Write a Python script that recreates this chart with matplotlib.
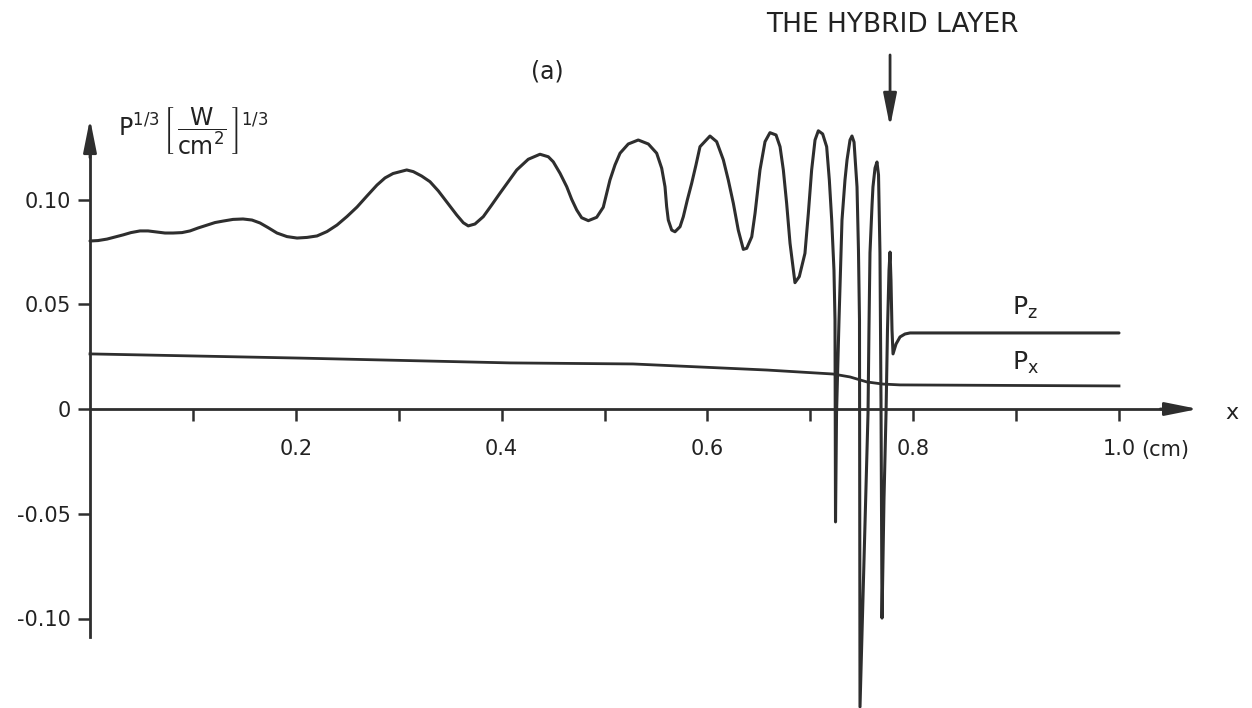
import matplotlib
matplotlib.use('Agg')
import matplotlib.pyplot as plt

plt.rcParams['font.family'] = ['DejaVu Sans']
plt.rcParams['mathtext.fontset'] = 'dejavusans'

# P_z^(1/3) along x (cm)
xz = [0.0000, 0.0078, 0.0165, 0.0243, 0.0321, 0.0398, 0.0486, 0.0564, 0.0651, 0.0729,
      0.0807, 0.0894, 0.0972, 0.1050, 0.1137, 0.1215, 0.1293, 0.1390, 0.1487, 0.1574,
      0.1652, 0.1730, 0.1817, 0.1914, 0.2012, 0.2109, 0.2206, 0.2303, 0.2400, 0.2498,
      0.2595, 0.2692, 0.2789, 0.2867, 0.2945, 0.3042,
      0.3078, 0.3142, 0.3223, 0.3304, 0.3385, 0.3466, 0.3564, 0.3628, 0.3676, 0.3741,
      0.3822, 0.3904, 0.3984, 0.4065, 0.4147, 0.4259, 0.4373, 0.4454, 0.4502, 0.4568,
      0.4633, 0.4681, 0.4730, 0.4778, 0.4843, 0.4924, 0.4988, 0.5021, 0.5053, 0.5102,
      0.5151, 0.5231, 0.5328, 0.5426, 0.5507, 0.5556, 0.5588, 0.5604, 0.5620, 0.5653,
      0.5685, 0.5734, 0.5766, 0.5805, 0.5847, 0.5889, 0.5928,
      0.6025, 0.6090, 0.6155, 0.6203, 0.6252, 0.6300, 0.6349, 0.6382, 0.6431, 0.6463,
      0.6511, 0.6560, 0.6608, 0.6667, 0.6706, 0.6738, 0.6770, 0.6803, 0.6851, 0.6893,
      0.6948, 0.6981, 0.7013, 0.7046, 0.7078, 0.7120, 0.7159, 0.7185, 0.7208, 0.7230,
      0.7240, 0.7245, 0.7255, 0.7279, 0.7308, 0.7337, 0.7357, 0.7386, 0.7405, 0.7425,
      0.7454, 0.7468, 0.7478, 0.7483, 0.7522, 0.7561, 0.7570, 0.7580, 0.7600, 0.7609,
      0.7629, 0.7648, 0.7663, 0.7677, 0.7687, 0.7697, 0.7716, 0.7736, 0.7750, 0.7765,
      0.7775, 0.7784, 0.7794, 0.7804, 0.7833, 0.7872, 0.7920, 0.7969, 1.0000]
pz = [0.0802, 0.0804, 0.0811, 0.0821, 0.0831, 0.0842, 0.0850, 0.0850, 0.0845, 0.0840,
      0.0840, 0.0842, 0.0850, 0.0864, 0.0878, 0.0890, 0.0897, 0.0905, 0.0907, 0.0902,
      0.0888, 0.0866, 0.0840, 0.0823, 0.0816, 0.0819, 0.0826, 0.0847, 0.0878, 0.0919,
      0.0964, 0.1017, 0.1069, 0.1103, 0.1124, 0.1136,
      0.1141, 0.1133, 0.1112, 0.1085, 0.1041, 0.0989, 0.0926, 0.0889, 0.0874, 0.0883,
      0.0918, 0.0974, 0.1030, 0.1085, 0.1141, 0.1192, 0.1216, 0.1204, 0.1180, 0.1125,
      0.1061, 0.1001, 0.0950, 0.0913, 0.0899, 0.0915, 0.0963, 0.1030, 0.1093, 0.1165,
      0.1221, 0.1265, 0.1284, 0.1265, 0.1221, 0.1149, 0.1061, 0.0966, 0.0902, 0.0854,
      0.0846, 0.0870, 0.0918, 0.0998, 0.1077, 0.1165, 0.1252,
      0.1303, 0.1276, 0.1189, 0.1093, 0.0982, 0.0854, 0.0762, 0.0767, 0.0822, 0.0934,
      0.1141, 0.1276, 0.1319, 0.1308, 0.1252, 0.1141, 0.0982, 0.0791, 0.0603, 0.0632,
      0.0743, 0.0934, 0.1141, 0.1284, 0.1328, 0.1313, 0.1252, 0.1093, 0.0902, 0.0663,
      0.0425, -0.0539, -0.0019, 0.0425, 0.0902, 0.1093, 0.1189, 0.1284, 0.1303, 0.1274,
      0.1060, 0.0759, 0.0425, -0.1422, -0.0721, -0.0019, 0.0377, 0.0745, 0.0974, 0.1060,
      0.1150, 0.1179, 0.1117, 0.0745, 0.0043, -0.0998, -0.0434, -0.0019, 0.0377, 0.0663,
      0.0749, 0.0616, 0.0377, 0.0263, 0.0310, 0.0344, 0.0358, 0.0363, 0.0363]

# P_x^(1/3)
xx = [0.0, 0.2041, 0.4082, 0.5277, 0.6579, 0.7221, 0.7386, 0.7551, 0.7707, 0.7872, 1.0]
px = [0.0263, 0.0243, 0.0220, 0.0215, 0.0186, 0.0167, 0.0153, 0.0129, 0.0119, 0.0115, 0.0110]

yticks = [-0.10, -0.05, 0, 0.05, 0.10]
ylabels = ['-0.10', '-0.05', '0', '0.05', '0.10']
xticks = [0.1, 0.2, 0.3, 0.4, 0.5, 0.6, 0.7, 0.8, 0.9, 1.0]
xlabels = ['', '0.2', '', '0.4', '', '0.6', '', '0.8', '', '1.0']

c = '#2e2e2e'
tc = '#222222'
fig = plt.figure(figsize=(12.52, 7.08), dpi=100)
ax = fig.add_axes([0, 0, 1, 1])
ax.set_xlim(-90/1029, 1162/1029)
ax.set_ylim(-299/2095, 409/2095)

ax.plot(xz, pz, c=c, lw=2.2, solid_joinstyle='round', solid_capstyle='round')
ax.plot(xx, px, c=c, lw=2.0)

# axes through the origin
for s in ['top', 'right']:
    ax.spines[s].set_visible(False)
ax.spines['left'].set_position(('data', 0))
ax.spines['bottom'].set_position(('data', 0))
ax.spines['left'].set_bounds(-0.1088, 0.13)
ax.spines['bottom'].set_bounds(0, 1.05)
for s in ['left', 'bottom']:
    ax.spines[s].set_linewidth(2.0)
    ax.spines[s].set_color(c)
ax.patch.set_visible(False)

ax.set_yticks(yticks)
ax.set_yticklabels(ylabels)
ax.set_xticks(xticks)
ax.set_xticklabels(xlabels)
ax.tick_params(axis='both', direction='out', length=8.6, width=1.8, color=c,
               labelsize=15, labelcolor=tc)
ax.tick_params(axis='y', pad=5)
ax.tick_params(axis='x', pad=13)

# arrow heads on the axes
head = dict(arrowstyle='-|>,head_length=1.0,head_width=0.2', lw=2.0, color=c,
            shrinkA=0, shrinkB=0, mutation_scale=20)
ax.annotate('', xy=(0, 0.1385), xytext=(0, 0.12), arrowprops=head)
ax.annotate('', xy=(1.077, 0), xytext=(1.04, 0), arrowprops=head)

ax.text(1.022, -0.0196, '(cm)', fontsize=15, va='center', ha='left', color=tc)
ax.text(1.110, -0.002, 'x', fontsize=16, va='center', ha='center', color=tc)

ax.text(0.027, 0.1325, r'$\mathrm{P}^{1/3}\,\left[\,\dfrac{\mathrm{W}}{\mathrm{cm}^{2}}\,\right]^{1/3}$',
        fontsize=17, va='center', ha='left', color=tc)
ax.text(0.444, 0.161, '(a)', fontsize=17, ha='center', va='center', color=tc)

ax.text(0.780, 0.1833, 'THE HYBRID LAYER', fontsize=19, ha='center', va='center', color=tc)
ax.annotate('', xy=(0.7775, 0.1346), xytext=(0.7775, 0.169), arrowprops=head)

ax.text(0.896, 0.0449, r'$\mathrm{P}_{\mathrm{z}}$', fontsize=18, va='baseline', ha='left', color=tc)
ax.text(0.896, 0.0186, r'$\mathrm{P}_{\mathrm{x}}$', fontsize=18, va='baseline', ha='left', color=tc)

plt.savefig('out.png', dpi=100)
